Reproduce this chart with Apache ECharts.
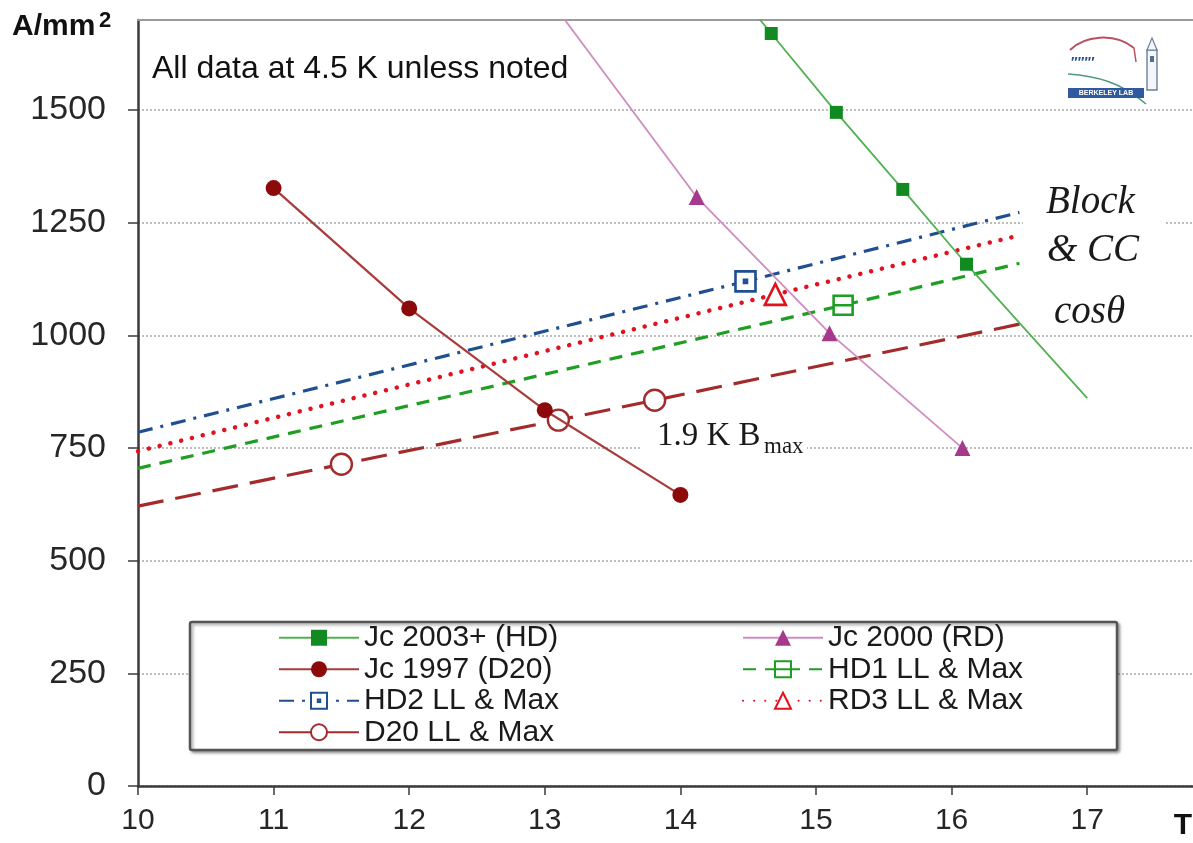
<!DOCTYPE html>
<html>
<head>
<meta charset="utf-8">
<script src="https://cdn.jsdelivr.net/npm/echarts@6.0.0/dist/echarts.min.js"></script>
<style>
  html, body { margin: 0; padding: 0; background: #fff; }
  #chart { width: 1193px; height: 843px; }
</style>
</head>
<body>
<div id="chart"></div>
<script>
// Critical current density (A/mm²) versus field (T)
const xTickValues = [10, 11, 12, 13, 14, 15, 16, 17];
const yTickValues = [0, 250, 500, 750, 1000, 1250, 1500];

// Conductor Jc curves (4.5 K); the lead-in / tail points carry no marker
const jc2003Points = [[14.67, 1670], [15.15, 1495], [15.64, 1324], [16.11, 1158]];
const jc2003Lead = [14.4, 1770];
const jc2003Tail = [17.0, 861];

const jc2000Points = [[14.12, 1307], [15.10, 1005], [16.08, 750]];
const jc2000Lead = [13.0, 1760];

const jc1997Points = [[11, 1327], [12, 1060], [13, 834], [14, 646]];

// Magnet load lines (start at 10 T, end at 16.5 T) and their maximum points
const hd2LoadLine = [[10, 785], [16.5, 1273]];
const hd2Max = [[14.48, 1120]];
const rd3LoadLine = [[10, 743], [16.5, 1222]];
const rd3Max = [[14.70, 1091]];
const hd1LoadLine = [[10, 705], [16.5, 1160]];
const hd1Max = [[15.20, 1067]];
const d20LoadLine = [[10, 621], [16.5, 1025]];
const d20Max = [[11.50, 714], [13.10, 812], [13.81, 856]];

const plain = v => ({ value: v, symbol: 'none' });
const loadLineData = (line, marks) => [plain(line[0]), ...marks, plain(line[1])];

const FONT = '"Liberation Sans", Arial, Helvetica, sans-serif';
const SERIF = '"Liberation Serif", "Times New Roman", serif';

const squareDot = 'path://M0,0 L20,0 L20,20 L0,20 Z M8.5,8.5 L11.5,8.5 L11.5,11.5 L8.5,11.5 Z';
const squareBar = 'path://M0,0 L20,0 L20,20 L0,20 Z M0,10 L20,10';

const X_MIN = 10;
const X_MAX = 10 + 1055 / 135.6;

const chart = echarts.init(document.getElementById('chart'), null, { renderer: 'canvas' });

const legendCommon = {
  orient: 'vertical',
  itemWidth: 80,
  itemHeight: 20,
  itemGap: 0,
  padding: 0,
  selectedMode: false,
  textStyle: { fontFamily: FONT, fontSize: 30, color: '#1a1a1a', lineHeight: 31.5 },
  z: 5
};

const textStyle = (extra) => Object.assign({
  fill: '#111', align: 'left', verticalAlign: 'middle', textAlign: 'left', textVerticalAlign: 'middle'
}, extra);

const option = {
  backgroundColor: '#ffffff',
  animation: false,
  grid: { left: 138, top: 20, right: 0, bottom: 57, show: false },
  xAxis: [
    {
      type: 'value',
      min: X_MIN,
      max: X_MAX,
      interval: 1,
      axisLine: { show: true, onZero: false, lineStyle: { color: '#3a3a3a', width: 2.5 } },
      axisTick: { show: true, length: 9, lineStyle: { color: '#3a3a3a', width: 1.5 }, customValues: xTickValues },
      axisLabel: { margin: 20, fontFamily: FONT, fontSize: 30, color: '#262626', customValues: xTickValues,
                   formatter: v => String(v) },
      splitLine: { show: false }
    },
    {
      // top frame edge of the plot
      type: 'value', position: 'top',
      min: X_MIN, max: X_MAX,
      axisLine: { show: true, onZero: false, lineStyle: { color: '#9a9a9a', width: 2 } },
      axisTick: { show: false },
      axisLabel: { show: false },
      splitLine: { show: false }
    }
  ],
  yAxis: {
    type: 'value',
    min: 0,
    max: 1700,
    interval: 250,
    axisLine: { show: true, lineStyle: { color: '#3a3a3a', width: 2.5 } },
    axisTick: { show: true, length: 10, lineStyle: { color: '#3a3a3a', width: 1.5 }, customValues: yTickValues },
    axisLabel: { margin: 32, fontFamily: FONT, fontSize: 34, color: '#262626', customValues: yTickValues,
                 formatter: v => String(v) },
    splitLine: { show: true, lineStyle: { color: '#a8a8a8', width: 1.5, type: [2, 2] } }
  },
  legend: [
    Object.assign({}, legendCommon, {
      left: 278, top: 622,
      data: ['Jc 2003+ (HD)', 'Jc 1997 (D20)', 'HD2 LL & Max',
             { name: 'D20 LL & Max', lineStyle: { type: 'solid' } }]
    }),
    Object.assign({}, legendCommon, {
      left: 742, top: 622,
      data: ['Jc 2000 (RD)', 'HD1 LL & Max', 'RD3 LL & Max']
    })
  ],
  series: [
    {
      name: 'Jc 2003+ (HD)', type: 'line', clip: true,
      data: [plain(jc2003Lead), ...jc2003Points, plain(jc2003Tail)],
      symbol: 'rect', symbolSize: 13,
      lineStyle: { color: '#52b152', width: 1.8 },
      itemStyle: { color: '#128a22' },
      z: 6
    },
    {
      name: 'Jc 2000 (RD)', type: 'line', clip: true,
      data: [plain(jc2000Lead), ...jc2000Points],
      symbol: 'triangle', symbolSize: 16,
      lineStyle: { color: '#cf8cc0', width: 1.8 },
      itemStyle: { color: '#a53a8c' },
      z: 6
    },
    {
      name: 'Jc 1997 (D20)', type: 'line', clip: true,
      data: jc1997Points,
      symbol: 'circle', symbolSize: 16,
      lineStyle: { color: '#a83c3c', width: 2.2 },
      itemStyle: { color: '#8c0a0a' },
      z: 6
    },
    {
      name: 'HD1 LL & Max', type: 'line', clip: true,
      data: loadLineData(hd1LoadLine, hd1Max),
      symbol: squareBar, symbolSize: 19,
      lineStyle: { color: '#1e9e22', width: 3.2, type: [13, 9] },
      itemStyle: { color: '#ffffff', borderColor: '#1e9e22', borderWidth: 2.6 },
      z: 4
    },
    {
      name: 'HD2 LL & Max', type: 'line', clip: true,
      data: loadLineData(hd2LoadLine, hd2Max),
      symbol: squareDot, symbolSize: 20,
      lineStyle: { color: '#1f4f8f', width: 3.2, type: [15, 8, 3, 8] },
      itemStyle: { color: '#ffffff', borderColor: '#1f4f8f', borderWidth: 2.6 },
      z: 4
    },
    {
      name: 'RD3 LL & Max', type: 'line', clip: true,
      data: loadLineData(rd3LoadLine, rd3Max),
      symbol: 'triangle', symbolSize: 21,
      lineStyle: { color: '#e0121e', width: 4.5, type: [0.1, 11], cap: 'round' },
      itemStyle: { color: '#ffffff', borderColor: '#e0121e', borderWidth: 2.6 },
      z: 4
    },
    {
      name: 'D20 LL & Max', type: 'line', clip: true,
      data: loadLineData(d20LoadLine, d20Max),
      symbol: 'circle', symbolSize: 21,
      lineStyle: { color: '#a32b2b', width: 3.2, type: [26, 12] },
      itemStyle: { color: '#ffffff', borderColor: '#a32b2b', borderWidth: 2.4 },
      z: 4
    }
  ],
  graphic: [
    // axis captions
    { type: 'text', x: 12, y: 27, z: 10,
      style: textStyle({ text: 'A/mm', fontFamily: FONT, fontSize: 30, fontWeight: 'bold' }) },
    { type: 'text', x: 99, y: 21, z: 10,
      style: textStyle({ text: '2', fontFamily: FONT, fontSize: 22, fontWeight: 'bold' }) },
    { type: 'text', x: 1183, y: 826, z: 10,
      style: textStyle({ text: 'T', fontFamily: FONT, fontSize: 30, fontWeight: 'bold',
                         align: 'center', textAlign: 'center' }) },
    // note
    { type: 'text', x: 152, y: 69, z: 10,
      style: textStyle({ text: 'All data at 4.5 K unless noted', fontFamily: FONT, fontSize: 32 }) },
    // 1.9 K annotation
    { type: 'rect', z: 1, shape: { x: 642, y: 422, width: 165, height: 40 }, style: { fill: '#ffffff' } },
    { type: 'text', x: 657, y: 436, z: 10,
      style: textStyle({ text: '1.9 K B', fontFamily: SERIF, fontSize: 33, fill: '#1a1a1a' }) },
    { type: 'text', x: 764, y: 447, z: 10,
      style: textStyle({ text: 'max', fontFamily: SERIF, fontSize: 23, fill: '#1a1a1a' }) },
    // magnet type labels
    { type: 'rect', z: 1, shape: { x: 1023, y: 180, width: 143, height: 92 }, style: { fill: '#ffffff' } },
    { type: 'text', x: 1046, y: 203, z: 10,
      style: textStyle({ text: 'Block', fontFamily: SERIF, fontStyle: 'italic', fontSize: 39, fill: '#1a1a1a' }) },
    { type: 'text', x: 1047, y: 251, z: 10,
      style: textStyle({ text: '& CC', fontFamily: SERIF, fontStyle: 'italic', fontSize: 39, fill: '#1a1a1a' }) },
    { type: 'text', x: 1054, y: 313, z: 10,
      style: textStyle({ text: 'cosθ', fontFamily: SERIF, fontStyle: 'italic', fontSize: 39, fill: '#1a1a1a' }) },
    // legend frame
    { type: 'rect', z: 3, shape: { x: 190, y: 622, width: 927, height: 128, r: 2 },
      style: { fill: '#ffffff', stroke: '#555555', lineWidth: 2.5,
               shadowBlur: 3, shadowOffsetX: 2, shadowOffsetY: 2, shadowColor: 'rgba(0,0,0,0.35)' } },
    // lab emblem
    { type: 'group', x: 1066, y: 30, z: 10, children: [
      { type: 'bezierCurve', shape: { x1: 4, y1: 20, cpx1: 18, cpy1: 6, cpx2: 48, cpy2: 2, x2: 68, y2: 18 },
        style: { stroke: '#b8505e', lineWidth: 2, fill: null } },
      { type: 'line', shape: { x1: 68, y1: 18, x2: 70, y2: 32 }, style: { stroke: '#b8505e', lineWidth: 1.5 } },
      { type: 'text', x: 5, y: 33, style: { text: '\u2032\u2032\u2032\u2032\u2032\u2032\u2032', fontFamily: FONT,
        fontSize: 14, fontWeight: 'bold', fill: '#2b4f8a', align: 'left', verticalAlign: 'middle' } },
      { type: 'bezierCurve', shape: { x1: 2, y1: 44, cpx1: 30, cpy1: 46, cpx2: 55, cpy2: 52, x2: 80, y2: 74 },
        style: { stroke: '#4f9a7c', lineWidth: 1.6, fill: null } },
      { type: 'rect', shape: { x: 81, y: 20, width: 10, height: 40 }, style: { fill: '#f4f6f9', stroke: '#6a7f9a', lineWidth: 1.4 } },
      { type: 'polygon', shape: { points: [[81, 20], [86, 8], [91, 20]] }, style: { fill: '#f4f6f9', stroke: '#6a7f9a', lineWidth: 1.2 } },
      { type: 'rect', shape: { x: 84, y: 26, width: 4, height: 6 }, style: { fill: '#4f6f9a' } },
      { type: 'rect', shape: { x: 2, y: 58, width: 76, height: 10 }, style: { fill: '#2f5a9e' } },
      { type: 'text', x: 40, y: 63, style: { text: 'BERKELEY LAB', fontFamily: FONT, fontSize: 7, fontWeight: 'bold',
        fill: '#ffffff', align: 'center', verticalAlign: 'middle' } }
    ] }
  ]
};

chart.setOption(option);
</script>
</body>
</html>
